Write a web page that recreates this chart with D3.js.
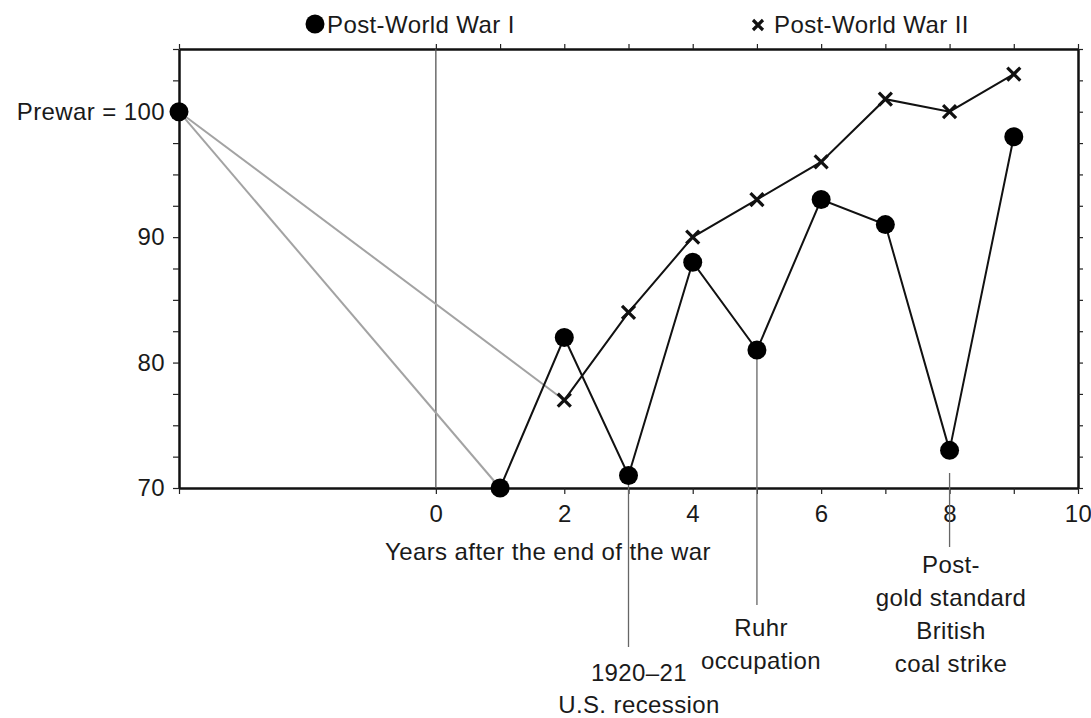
<!doctype html>
<html lang="en">
<head>
  <meta charset="utf-8">
  <title>Post-war recovery</title>
  <script src="https://d3js.org/d3.v7.min.js"></script>
  <style>
    body { margin: 0; background: #fff; }
    text { font-family: "Liberation Sans", Arial, sans-serif; font-size: 24px; letter-spacing: 0.4px; fill: #1a1a1a; }
  </style>
</head>
<body>
  <div id="chart"></div>
  <script type="text/javascript">
	// years after the end of the war, and the index (prewar = 100)
	var yearsWWI = [1, 2, 3, 4, 5, 6, 7, 8, 9];
	var valuesWWI = [70, 82, 71, 88, 81, 93, 91, 73, 98];
	var yearsWWII = [2, 3, 4, 5, 6, 7, 8, 9];
	var valuesWWII = [77, 84, 90, 93, 96, 101, 100, 103];
	var prewarYear = -4, prewarValue = 100;

	var xTickValues = [0, 1, 2, 3, 4, 5, 6, 7, 8, 9, 10];
	var xTickLabels = [0, 2, 4, 6, 8, 10];
	var yTickLabels = [70, 80, 90];

	// event notes hanging below the chart
	var noteYears = [3, 5, 8];
	var noteTexts = [["1920\u201321", "U.S. recession"],
					 ["Ruhr", "occupation"],
					 ["Post-", "gold standard", "British", "coal strike"]];

	var width = 1091, height = 718;
	// note: "top" is taken by window.top, so use plot* names
	var plotLeft = 179, plotRight = 1078, plotTop = 49, plotBottom = 488;

	var x = d3.scaleLinear().domain([-4, 10]).range([plotLeft, plotRight]);
	var y = d3.scaleLinear().domain([70, 105]).range([plotBottom, plotTop]);

	var svg = d3.select('#chart')
				.append('svg')
				.attr('width', width)
				.attr('height', height);

	var yTicks = d3.range(70, 105.01, 2.5);

	// the four sides of the frame, ticks pointing outwards
	function styleAxis(g) {
		g.attr('font-family', null).attr('font-size', null);
		g.select('.domain').attr('stroke', '#111').attr('stroke-width', 2.5);
		g.selectAll('.tick line').attr('stroke', '#222').attr('stroke-width', 1.2);
		g.selectAll('.tick text').attr('fill', '#1a1a1a');
	}

	svg.append('g')
		.attr('transform', 'translate(0,' + plotBottom + ')')
		.call(d3.axisBottom(x)
			.tickValues([-4].concat(xTickValues))
			.tickSize(6).tickSizeOuter(0).tickPadding(11)
			.tickFormat(function(d) { return xTickLabels.indexOf(d) >= 0 ? d : ''; }))
		.call(styleAxis);

	svg.append('g')
		.attr('transform', 'translate(0,' + plotTop + ')')
		.call(d3.axisTop(x)
			.tickValues([-4].concat(xTickValues))
			.tickSize(5).tickSizeOuter(0)
			.tickFormat(''))
		.call(styleAxis);

	svg.append('g')
		.attr('transform', 'translate(' + plotLeft + ',0)')
		.call(d3.axisLeft(y)
			.tickValues(yTicks)
			.tickSize(6).tickSizeOuter(0).tickPadding(8)
			.tickFormat(function(d) {
				if (d === prewarValue) return 'Prewar = ' + d;
				return yTickLabels.indexOf(d) >= 0 ? d : '';
			}))
		.call(styleAxis);

	svg.append('g')
		.attr('transform', 'translate(' + plotRight + ',0)')
		.call(d3.axisRight(y)
			.tickValues(yTicks)
			.tickSize(5).tickSizeOuter(0)
			.tickFormat(''))
		.call(styleAxis);

	// thin line marking the end of the war
	svg.append('line')
		.attr('x1', x(0)).attr('x2', x(0))
		.attr('y1', plotTop).attr('y2', plotBottom)
		.attr('stroke', '#555').attr('stroke-width', 1.3);

	// axis title
	svg.append('text')
		.attr('x', 548).attr('y', 560)
		.attr('text-anchor', 'middle')
		.text('Years after the end of the war');

	// note lines and labels (pixel layout for each note)
	var noteLayout = [{lineTop: null, lineBottom: 647, textX: 639, baseline: 681, step: 32},
					  {lineTop: null, lineBottom: 605, textX: 761, baseline: 636, step: 33},
					  {lineTop: 473, lineBottom: 547, textX: 951, baseline: 573, step: 33}];

	noteYears.forEach(function(yr, i) {
		var lay = noteLayout[i];
		var v = valuesWWI[yearsWWI.indexOf(yr)];
		svg.append('line')
			.attr('x1', x(yr)).attr('x2', x(yr))
			.attr('y1', lay.lineTop === null ? y(v) : lay.lineTop)
			.attr('y2', lay.lineBottom)
			.attr('stroke', '#666').attr('stroke-width', 1.3);
		svg.append('text')
			.attr('text-anchor', 'middle')
			.selectAll('tspan')
			.data(noteTexts[i])
			.enter()
			.append('tspan')
			.attr('x', lay.textX)
			.attr('y', function(d, j) { return lay.baseline + j * lay.step; })
			.text(function(d) { return d; });
	});

	// grey lines from the prewar level to the first post-war year
	var greyTargets = [[yearsWWI[0], valuesWWI[0]], [yearsWWII[0], valuesWWII[0]]];
	svg.selectAll('.prewar-link')
		.data(greyTargets)
		.enter()
		.append('line')
		.attr('class', 'prewar-link')
		.attr('x1', x(prewarYear)).attr('y1', y(prewarValue))
		.attr('x2', function(d) { return x(d[0]); })
		.attr('y2', function(d) { return y(d[1]); })
		.attr('stroke', '#a3a3a3').attr('stroke-width', 2);

	var line = d3.line()
				.x(function(d) { return x(d[0]); })
				.y(function(d) { return y(d[1]); });

	var wwI = d3.zip(yearsWWI, valuesWWI);
	var wwII = d3.zip(yearsWWII, valuesWWII);

	svg.append('path')
		.datum(wwII)
		.attr('d', line)
		.attr('fill', 'none').attr('stroke', '#111').attr('stroke-width', 2);

	svg.append('path')
		.datum(wwI)
		.attr('d', line)
		.attr('fill', 'none').attr('stroke', '#111').attr('stroke-width', 2);

	// crosses for post-WWII
	function cross(cx, cy, s) {
		return 'M' + (cx - s) + ',' + (cy - s) + 'L' + (cx + s) + ',' + (cy + s) +
			   'M' + (cx - s) + ',' + (cy + s) + 'L' + (cx + s) + ',' + (cy - s);
	}

	svg.selectAll('.cross')
		.data(wwII)
		.enter()
		.append('path')
		.attr('class', 'cross')
		.attr('d', function(d) { return cross(x(d[0]), y(d[1]), 6.5); })
		.attr('stroke', '#111').attr('stroke-width', 3.2);

	// dots for post-WWI, plus the prewar dot
	svg.selectAll('.dot')
		.data([[prewarYear, prewarValue]].concat(wwI))
		.enter()
		.append('circle')
		.attr('class', 'dot')
		.attr('cx', function(d) { return x(d[0]); })
		.attr('cy', function(d) { return y(d[1]); })
		.attr('r', 9.5)
		.attr('fill', '#000');

	// legend across the top
	svg.append('circle').attr('cx', 315).attr('cy', 24).attr('r', 9.5).attr('fill', '#000');
	svg.append('text').attr('x', 327).attr('y', 33).text('Post-World War I');

	svg.append('path')
		.attr('d', cross(758, 25, 5))
		.attr('stroke', '#111').attr('stroke-width', 3.2);
	svg.append('text').attr('x', 774).attr('y', 33).text('Post-World War II');
  </script>
</body>
</html>
